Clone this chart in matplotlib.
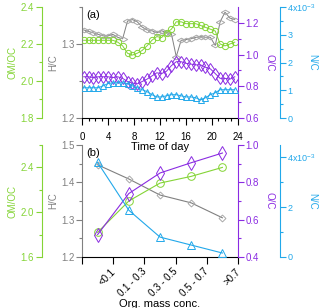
import numpy as np
import matplotlib
matplotlib.use('Agg')
import matplotlib.pyplot as plt
from matplotlib.ticker import MultipleLocator, FixedLocator, FixedFormatter

plt.rcParams['font.family'] = ['Liberation Sans', 'DejaVu Sans']
plt.rcParams['font.size'] = 7

GREEN = '#84d436'
GREY = '#808080'
LGREY = '#a8a8a8'
PURPLE = '#8a2be2'
BLUE = '#22a8ea'

# (a) diurnal cycle, hour of day
hours = [0.25, 1.0, 1.75, 2.5, 3.25, 4.0, 4.75, 5.5, 6.25, 7.0, 7.75, 8.5, 9.25, 10.0, 10.75, 11.5,
         12.25, 13.0, 13.75, 14.5, 15.25, 16.0, 16.75, 17.5, 18.25, 19.0, 19.75, 20.5, 21.25, 22.0, 22.75, 23.5]
om_oc_day = [2.22, 2.22, 2.22, 2.22, 2.22, 2.22, 2.22, 2.21, 2.19, 2.15, 2.14, 2.15, 2.165, 2.19, 2.22, 2.24,
             2.235, 2.26, 2.28, 2.32, 2.32, 2.31, 2.31, 2.31, 2.30, 2.29, 2.28, 2.27, 2.20, 2.19, 2.20, 2.21]
h_c_day = [1.319, 1.317, 1.315, 1.313, 1.311, 1.311, 1.313, 1.309, 1.307, 1.331, 1.333, 1.330, 1.323, 1.319, 1.318, 1.315,
           1.318, 1.315, 1.314, 1.283, 1.305, 1.306, 1.307, 1.309, 1.310, 1.309, 1.309, 1.298, 1.330, 1.343, 1.335, 1.333]
o_c_day = [0.86, 0.86, 0.855, 0.86, 0.86, 0.86, 0.855, 0.86, 0.85, 0.83, 0.82, 0.815, 0.83, 0.845, 0.865, 0.885,
           0.88, 0.895, 0.93, 0.955, 0.955, 0.945, 0.94, 0.935, 0.935, 0.92, 0.91, 0.88, 0.85, 0.85, 0.845, 0.86]
n_c_day = [1.09, 1.09, 1.09, 1.09, 1.16, 1.24, 1.27, 1.27, 1.27, 1.24, 1.16, 1.09, 1.02, 0.95, 0.84, 0.76,
           0.76, 0.80, 0.84, 0.84, 0.80, 0.76, 0.76, 0.73, 0.65, 0.73, 0.84, 0.91, 1.02, 1.02, 1.02, 1.02]  # x10^-3

# (b) binned by organic mass concentration
conc_bins = ['<0.1', '0.1 - 0.3', '0.3 - 0.5', '0.5 - 0.7', '>0.7']
om_oc_bin = [1.82, 2.10, 2.26, 2.32, 2.40]
h_c_bin = [1.447, 1.409, 1.366, 1.345, 1.305]
o_c_bin = [0.52, 0.74, 0.85, 0.905, 0.957]
n_c_bin = [3.8, 1.88, 0.8, 0.48, 0.16]  # x10^-3


def style_axis(a, color, side, labsize=7):
    a.tick_params(axis='y', colors=color, direction='out', length=4, width=0.8, pad=1.5, labelsize=labsize)
    a.tick_params(axis='y', which='minor', colors=color, direction='out', length=2.5, width=0.8)
    a.yaxis.label.set_color(color)
    for s in a.spines.values():
        s.set_visible(False)
    a.spines[side].set_visible(True)
    a.spines[side].set_color(color)
    a.spines[side].set_linewidth(0.8)


def make_panel(rect):
    ax = fig.add_axes(rect)
    ax.patch.set_visible(False)
    ax_g = ax.twinx()
    ax_p = ax.twinx()
    ax_b = ax.twinx()
    style_axis(ax, GREY, 'left')
    ax.spines['bottom'].set_visible(True)
    ax.spines['bottom'].set_color('black')
    ax.spines['bottom'].set_linewidth(0.8)
    ax.tick_params(axis='x', direction='out', length=5, width=0.8, pad=5)
    ax.tick_params(axis='x', which='minor', direction='out', length=2.5, width=0.8)
    ax_g.yaxis.tick_left()
    ax_g.yaxis.set_label_position('left')
    style_axis(ax_g, GREEN, 'left')
    ax_g.spines['left'].set_position(('outward', 29))
    style_axis(ax_p, PURPLE, 'right')
    style_axis(ax_b, BLUE, 'right', labsize=6.5)
    ax_b.spines['right'].set_position(('outward', 30))
    ax.set_ylabel('H/C', labelpad=2)
    ax_g.set_ylabel('OM/OC', labelpad=2)
    ax_p.set_ylabel('O/C', rotation=270, va='center', ha='center')
    ax_p.yaxis.set_label_coords((270 - 82) / 156, 0.5)
    ax_b.set_ylabel('N/C', rotation=270, va='center', ha='center')
    ax_b.yaxis.set_label_coords((312 - 82) / 156, 0.5)
    return ax, ax_g, ax_p, ax_b


fig = plt.figure(figsize=(3.2, 3.08), dpi=100)

# ---- panel (a)
ax, ax_g, ax_p, ax_b = make_panel([82/320, 1-118/308, 156/320, 111/308])
flat_d = [(-1, 0), (0, 0.55), (1, 0), (0, -0.55), (-1, 0)]
ax_g.plot(hours, om_oc_day, '-', color=GREEN, lw=0.7, marker='o', ms=4.5, mfc='none', mec=GREEN, mew=0.7)
ax.plot(hours, h_c_day, '-', color=GREY, lw=0.7, marker=flat_d, ms=6, mfc='none', mec=LGREY, mew=0.7)
ax_p.plot(hours, o_c_day, '-', color=PURPLE, lw=0.7, marker='d', ms=6, mfc='none', mec=PURPLE, mew=0.7)
ax_b.plot(hours, n_c_day, '-', color=BLUE, lw=0.7, marker='^', ms=4.5, mfc='none', mec=BLUE, mew=0.7)

ax.set_xlim(0, 24)
ax.xaxis.set_major_locator(MultipleLocator(4))
ax.xaxis.set_minor_locator(MultipleLocator(1))
ax.set_xlabel('Time of day', fontsize=8, labelpad=0)
ax.set_ylim(1.2, 1.35)
ax.yaxis.set_major_locator(FixedLocator([1.2, 1.3]))
ax.yaxis.set_minor_locator(FixedLocator([1.25, 1.35]))
ax_g.set_ylim(1.8, 2.4)
ax_g.yaxis.set_major_locator(MultipleLocator(0.2))
ax_g.yaxis.set_minor_locator(MultipleLocator(0.1))
ax_p.set_ylim(0.6, 1.3)
ax_p.yaxis.set_major_locator(FixedLocator([0.6, 0.8, 1.0, 1.2]))
ax_p.yaxis.set_minor_locator(FixedLocator([0.7, 0.9, 1.1]))
ax_b.set_ylim(0, 4)
ax_b.yaxis.set_major_locator(FixedLocator([0, 1, 2, 3, 4]))
ax_b.yaxis.set_major_formatter(FixedFormatter(['0', '1', '2', '3', r'4x10$^{\mathregular{-3}}$']))
ax_b.yaxis.set_minor_locator(MultipleLocator(0.5))
ax.text(0.03, 0.97, '(a)', transform=ax.transAxes, fontsize=8, va='top', ha='left')

# ---- panel (b)
ax, ax_g, ax_p, ax_b = make_panel([82/320, 1-257/308, 156/320, 112/308])
xb = np.arange(len(conc_bins)) + 0.5
ax_g.plot(xb, om_oc_bin, '-', color=GREEN, lw=0.8, marker='o', ms=5.5, mfc='none', mec=GREEN, mew=0.7)
ax.plot(xb, h_c_bin, '-', color=GREY, lw=0.8, marker='D', ms=3.5, mfc='none', mec=LGREY, mew=0.7)
ax_p.plot(xb, o_c_bin, '-', color=PURPLE, lw=0.8, marker='d', ms=7.5, mfc='none', mec=PURPLE, mew=0.7)
ax_b.plot(xb, n_c_bin, '-', color=BLUE, lw=0.8, marker='^', ms=5.5, mfc='none', mec=BLUE, mew=0.7)

ax.set_xlim(0, 5)
ax.xaxis.set_major_locator(FixedLocator(np.arange(6)))
ax.xaxis.set_major_formatter(FixedFormatter([''] * 6))
ax.xaxis.set_minor_locator(FixedLocator(xb + 0.4))
ax.xaxis.set_minor_formatter(FixedFormatter(conc_bins))
ax.tick_params(axis='x', which='minor', length=0, pad=7)
for lab in ax.xaxis.get_minorticklabels():
    lab.set_rotation(45)
    lab.set_ha('right')
    lab.set_rotation_mode('anchor')
ax.set_xlabel('Org. mass conc.', fontsize=8, labelpad=0)
ax.set_ylim(1.2, 1.5)
ax.yaxis.set_major_locator(MultipleLocator(0.1))
ax.yaxis.set_minor_locator(MultipleLocator(0.05))
ax_g.set_ylim(1.6, 2.6)
ax_g.yaxis.set_major_locator(FixedLocator([1.6, 2.0, 2.4]))
ax_g.yaxis.set_minor_locator(FixedLocator([1.8, 2.2, 2.6]))
ax_p.set_ylim(0.4, 1.0)
ax_p.yaxis.set_major_locator(MultipleLocator(0.2))
ax_p.yaxis.set_minor_locator(MultipleLocator(0.1))
ax_b.set_ylim(0, 4.5)
ax_b.yaxis.set_major_locator(FixedLocator([0, 2, 4]))
ax_b.yaxis.set_major_formatter(FixedFormatter(['0', '2', r'4x10$^{\mathregular{-3}}$']))
ax_b.yaxis.set_minor_locator(FixedLocator([1, 3]))
ax.text(0.03, 0.97, '(b)', transform=ax.transAxes, fontsize=8, va='top', ha='left')

fig.savefig('out.png', dpi=100)
